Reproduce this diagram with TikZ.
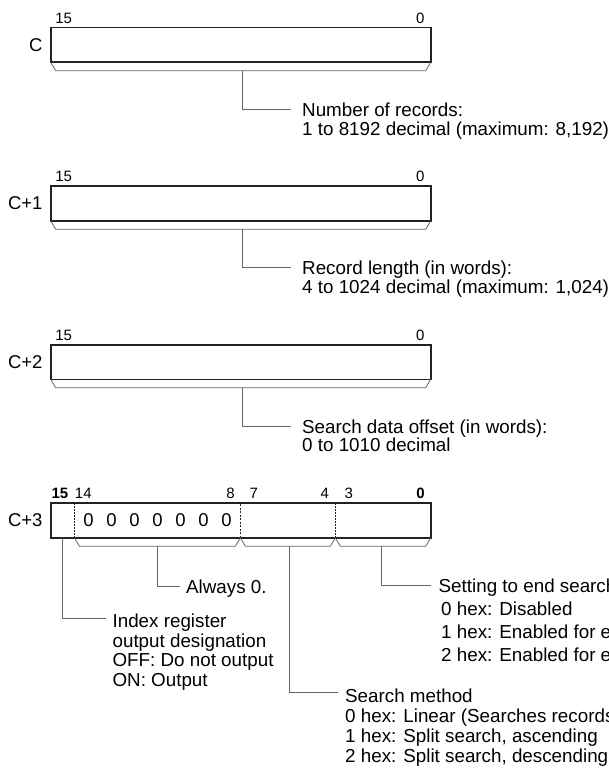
\documentclass[tikz,border=0pt]{standalone}
\usepackage{fontspec}
\setmainfont{Liberation Sans}
\usetikzlibrary{positioning}
\definecolor{frame}{HTML}{222222}
\definecolor{guide}{HTML}{666666}

\tikzset{
  regbox/.style={draw=frame, line width=1.6pt, minimum width=380pt,
    minimum height=34.6pt, inner sep=0pt, outer sep=0pt, anchor=north west},
  regname/.style={font=\fontsize{18.5}{18.5}\selectfont, inner sep=0pt},
  bitnum/.style={font=\fontsize{15}{15}\selectfont, inner sep=0pt},
  bitbold/.style={font=\fontsize{15}{15}\selectfont\bfseries, inner sep=0pt},
  brace/.style={draw=guide, line width=0.8pt, line join=miter},
  lead/.style={draw=guide, line width=0.9pt},
  note/.style={font=\fontsize{18.8}{18.5}\selectfont, align=left,
    anchor=north west, inner sep=0pt},
  cell/.style={font=\fontsize{18.5}{18.5}\selectfont, inner sep=0pt},
  bitcut/.style={frame, line width=0.8pt, dash pattern=on 1.5pt off 1.5pt},
  nibcut/.style={frame, line width=1.3pt, dash pattern=on 2pt off 1.5pt},
}

\begin{document}
\begin{tikzpicture}[x=1pt, y=-1pt]
  \useasboundingbox (0,0) rectangle (608,775);

  % C: number of records
  \node[regbox] (c0) at (50.7,27.7) {};
  \node[regname, left=8pt of c0] (c0name) {C};
  \node[bitnum, above right=4pt and 4.5pt of c0.north west] (c0hi) {15};
  \node[bitnum, above left=4pt and 6pt of c0.north east] (c0lo) {0};
  \draw[brace] (c0.south west) -- ++(5,8.4) -- ++(370,0) -- (c0.south east);
  \coordinate (c0tap) at (242,70.7);
  \node[note] (c0txt) at (302,102.9) {Number of records:\\1 to 8192 decimal (maximum: 8,192)};
  \draw[lead] (c0tap) |- ([xshift=-11pt,yshift=-6.6pt]c0txt.north west);

  % C+1: record length
  \node[regbox] (c1) at (50.7,186.2) {};
  \node[regname, left=8pt of c1] (c1name) {C+1};
  \node[bitnum, above right=4pt and 4.5pt of c1.north west] (c1hi) {15};
  \node[bitnum, above left=4pt and 6pt of c1.north east] (c1lo) {0};
  \draw[brace] (c1.south west) -- ++(5,8.4) -- ++(370,0) -- (c1.south east);
  \coordinate (c1tap) at (242,229.2);
  \node[note] (c1txt) at (302,261.1) {Record length (in words):\\4 to 1024 decimal (maximum: 1,024)};
  \draw[lead] (c1tap) |- ([xshift=-11pt,yshift=-6.6pt]c1txt.north west);

  % C+2: search data offset
  \node[regbox] (c2) at (50.7,344.7) {};
  \node[regname, left=8pt of c2] (c2name) {C+2};
  \node[bitnum, above right=4pt and 4.5pt of c2.north west] (c2hi) {15};
  \node[bitnum, above left=4pt and 6pt of c2.north east] (c2lo) {0};
  \draw[brace] (c2.south west) -- ++(5,8.4) -- ++(370,0) -- (c2.south east);
  \coordinate (c2tap) at (242,387.7);
  \node[note] (c2txt) at (302,419.6) {Search data offset (in words):\\0 to 1010 decimal};
  \draw[lead] (c2tap) |- ([xshift=-11pt,yshift=-6.6pt]c2txt.north west);

  % C+3: split into fields
  \node[regbox] (c3) at (50.7,503.2) {};
  \node[regname, left=8pt of c3] (c3name) {C+3};
  \node[bitbold] (b15) at (60,493.5) {15};
  \node[bitnum] (b14) at (83.3,493.5) {14};
  \node[bitnum] (b8) at (230.6,493.5) {8};
  \node[bitnum] (b7) at (253.9,493.5) {7};
  \node[bitnum] (b4) at (324.8,493.5) {4};
  \node[bitnum] (b3) at (348.8,493.5) {3};
  \node[bitbold] (b0) at (420.5,493.5) {0};

  % field borders
  \path (c3.south west) ++(23.7,0) coordinate (d14) ++(165.9,0) coordinate (d8)
    ++(95,0) coordinate (d4);
  \draw[bitcut] (d14) -- (d14 |- c3.north);
  \draw[nibcut] (d8) -- (d8 |- c3.north);
  \draw[bitcut] (d4) -- (d4 |- c3.north);
  \foreach \k in {0,...,6}
    \node[cell] (z\k) at ({88.4+23*\k},520.5) {0};

  % brackets under the fields
  \draw[brace] (d14) -- ++(5,8.4) -- ++(155.9,0) -- (d8);
  \draw[brace] (d8) -- ++(5,8.4) -- ++(85,0) -- (d4);
  \draw[brace] (d4) -- ++(5,8.4) -- ++(85.4,0) -- (c3.south east);
  \coordinate (t15) at (62,537.8);
  \coordinate (t14) at (157,546.2);
  \coordinate (t7) at (289.5,546.2);
  \coordinate (t3) at (381,546.2);

  % field notes
  \node[note] (always) at (186,579.6) {Always 0.};
  \draw[lead] (t14) |- ([xshift=-6pt,yshift=-6.8pt]always.north west);

  \node[note, font=\fontsize{18.8}{23.2}\selectfont] (endset) at (438.5,578.4)
    {Setting to end search\\\hspace*{2.5pt}0 hex: Disabled\\\hspace*{2.5pt}1 hex: Enabled for e\\\hspace*{2.5pt}2 hex: Enabled for e};
  \draw[lead] (t3) |- ([xshift=-8pt,yshift=-6.8pt]endset.north west);

  \node[note, font=\fontsize{18.8}{19.5}\selectfont] (idxout) at (112.4,613.9)
    {Index register\\output designation\\OFF: Do not output\\ON: Output};
  \draw[lead] (t15) |- ([xshift=-6pt,yshift=-5pt]idxout.north west);

  \node[note, font=\fontsize{18.8}{19.8}\selectfont] (method) at (345,688.9)
    {Search method\\0 hex: Linear (Searches records\\1 hex: Split search, ascending\\2 hex: Split search, descending};
  \draw[lead] (t7) |- ([xshift=-7pt,yshift=-3.1pt]method.north west);
\end{tikzpicture}
\end{document}
